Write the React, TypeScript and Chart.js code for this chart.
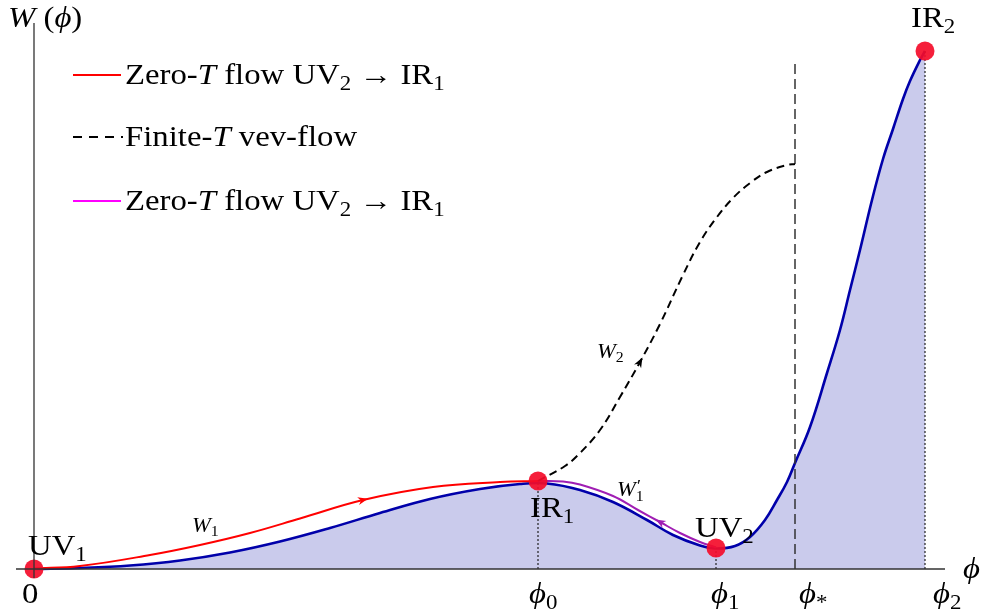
import React, { useEffect, useRef } from "react";
import { Chart, registerables } from "chart.js";

Chart.register(...registerables);

const SERIF = '"Liberation Serif", "DejaVu Serif", serif';
// horizontal widening applied to all text, to give the serif a rounder, book-like set
const STRETCH = 1.13;

// Field values of the marked points on the φ axis
const PHI_0 = 5.04;
const PHI_1 = 6.82;
const PHI_STAR = 7.61;
const PHI_2 = 8.91;

// Superpotential W(φ)
const wPhi = [0, 0.46, 0.96, 1.46, 1.96, 2.46, 2.96, 3.46, 3.96, 4.46, 4.86, 5.13, 5.46, 5.79, 6.13, 6.39, 6.66, 6.82, 7.01, 7.16, 7.31, 7.43, 7.53, 7.61, 7.76, 7.93, 8.06, 8.16, 8.26, 8.38, 8.49, 8.59, 8.69, 8.76, 8.86, 8.91];
const wVal = [0, 0.01, 0.035, 0.085, 0.165, 0.275, 0.41, 0.56, 0.7, 0.8, 0.85, 0.855, 0.79, 0.67, 0.49, 0.34, 0.235, 0.205, 0.23, 0.32, 0.49, 0.69, 0.87, 1.06, 1.42, 1.96, 2.39, 2.79, 3.19, 3.69, 4.1, 4.4, 4.7, 4.88, 5.09, 5.18];

// Zero-T flow W1 : UV1 -> IR1
const w1Phi = [0, 0.46, 1.16, 1.66, 2.16, 2.66, 3.29, 3.99, 4.66, 5.04];
const w1Val = [0.005, 0.03, 0.14, 0.24, 0.36, 0.505, 0.69, 0.82, 0.87, 0.88];

// Zero-T flow W1' : UV2 -> IR1
const w1pPhi = [5.04, 5.29, 5.46, 5.79, 6.04, 6.26, 6.46, 6.66, 6.82];
const w1pVal = [0.88, 0.875, 0.845, 0.73, 0.59, 0.47, 0.36, 0.27, 0.215];

// Finite-T vev-flow W2
const w2Phi = [5.04, 5.31, 5.46, 5.66, 5.86, 6.06, 6.26, 6.49, 6.66, 6.83, 6.99, 7.16, 7.33, 7.53, 7.61];
const w2Val = [0.88, 1.03, 1.16, 1.39, 1.72, 2.07, 2.45, 2.94, 3.27, 3.52, 3.71, 3.86, 3.97, 4.04, 4.05];

// Fixed points
const fpPhi = [0, PHI_0, PHI_1, PHI_2];
const fpVal = [0, 0.88, 0.21, 5.18];

// Height reached by the φ* marker line
const STAR_TOP = 5.09;

// Axis tick labels
const tickLabels = [
  { at: 0, main: "0", sub: "" },
  { at: PHI_0, main: "ϕ", sub: "0" },
  { at: PHI_1, main: "ϕ", sub: "1" },
  { at: PHI_STAR, main: "ϕ", sub: "*" },
  { at: PHI_2, main: "ϕ", sub: "2" },
];

const zip = (xs: number[], ys: number[]) => xs.map((x, i) => ({ x, y: ys[i] }));

type Run = { t: string; it?: boolean; sub?: boolean };

function drawRuns(ctx: CanvasRenderingContext2D, runs: Run[], x: number, y: number, size: number) {
  ctx.save();
  ctx.translate(x, y);
  ctx.scale(STRETCH, 1);
  let cx = 0;
  for (const r of runs) {
    const s = r.sub ? size * 0.7 : size;
    ctx.font = `${r.it ? "italic " : ""}${s}px ${SERIF}`;
    ctx.fillText(r.t, cx, r.sub ? size * 0.2 : 0);
    cx += ctx.measureText(r.t).width;
  }
  ctx.restore();
  return x + cx * STRETCH;
}

function arrowHead(ctx: CanvasRenderingContext2D, px: number, py: number, dx: number, dy: number, color: string) {
  const len = Math.hypot(dx, dy) || 1;
  const ux = dx / len, uy = dy / len;
  const L = 10, W = 4;
  ctx.fillStyle = color;
  ctx.beginPath();
  ctx.moveTo(px + ux * L * 0.5, py + uy * L * 0.5);
  ctx.lineTo(px - ux * L * 0.5 - uy * W, py - uy * L * 0.5 + ux * W);
  ctx.lineTo(px - ux * L * 0.2, py - uy * L * 0.2);
  ctx.lineTo(px - ux * L * 0.5 + uy * W, py - uy * L * 0.5 - ux * W);
  ctx.closePath();
  ctx.fill();
}

const overlay = {
  id: "overlay",
  afterDatasetsDraw(chart: any) {
    const { ctx, chartArea } = chart;
    const xs = chart.scales.x, ys = chart.scales.y;
    const X = (v: number) => xs.getPixelForValue(v);
    const Y = (v: number) => ys.getPixelForValue(v);
    ctx.save();

    // axes
    ctx.strokeStyle = "#333";
    ctx.lineWidth = 1.3;
    ctx.setLineDash([]);
    ctx.beginPath();
    ctx.moveTo(X(-0.18), Y(0));
    ctx.lineTo(X(9.11), Y(0));
    ctx.moveTo(X(0), Y(5.46));
    ctx.lineTo(X(0), Y(-0.09));
    ctx.stroke();

    // flow direction arrows
    const arrowAt = (px: number[], py: number[], i: number, rev: boolean, color: string) => {
      const dx = X(px[i + 1]) - X(px[i - 1]);
      const dy = Y(py[i + 1]) - Y(py[i - 1]);
      arrowHead(ctx, X(px[i]), Y(py[i]), rev ? -dx : dx, rev ? -dy : dy, color);
    };
    arrowAt(w1Phi, w1Val, 6, false, "#ff0000");
    arrowAt(w1pPhi, w1pVal, 5, true, "#a01eb4");
    arrowAt(w2Phi, w2Val, 5, false, "#000");

    ctx.fillStyle = "#000";
    ctx.textBaseline = "alphabetic";
    ctx.textAlign = "left";

    // axis titles
    drawRuns(ctx, [{ t: "W", it: true }, { t: " (" }, { t: "ϕ", it: true }, { t: ")" }], X(0) - 26, 27, 29);
    drawRuns(ctx, [{ t: "ϕ", it: true }], X(9.11) + 18, Y(0) + 9, 29);

    // tick labels
    const tickShift: Record<string, number> = { "": -12, "0": -9, "1": -5, "*": 4, "2": 8 };
    for (const tl of tickLabels) {
      const runs: Run[] = tl.main === "0" ? [{ t: "0" }] : [{ t: tl.main, it: true }, { t: tl.sub, sub: true }];
      drawRuns(ctx, runs, X(tl.at) + tickShift[tl.main === "0" ? "" : tl.sub], Y(0) + 34, 29);
    }

    // fixed-point names
    drawRuns(ctx, [{ t: "UV" }, { t: "1", sub: true }], X(0) - 6, Y(fpVal[0]) - 14, 29);
    drawRuns(ctx, [{ t: "IR" }, { t: "1", sub: true }], X(PHI_0) - 8, Y(fpVal[1]) + 36, 29);
    drawRuns(ctx, [{ t: "UV" }, { t: "2", sub: true }], X(PHI_1) - 21, Y(fpVal[2]) - 11, 29);
    drawRuns(ctx, [{ t: "IR" }, { t: "2", sub: true }], X(PHI_2) - 14, Y(fpVal[3]) - 24, 29);

    // flow names
    drawRuns(ctx, [{ t: "W", it: true }, { t: "1", sub: true }], X(1.58), Y(w1Val[3]) - 13, 20);
    drawRuns(ctx, [{ t: "W", it: true }, { t: "2", sub: true }], X(5.63), Y(2.07) - 4, 20);
    {
      const x0 = X(5.83), y0 = Y(0.73);
      ctx.save();
      ctx.translate(x0, y0);
      ctx.scale(STRETCH, 1);
      ctx.font = `italic 20px ${SERIF}`;
      ctx.fillText("W", 0, 0);
      const wW = ctx.measureText("W").width;
      ctx.font = `16px ${SERIF}`;
      ctx.fillText("′", wW + 1, -5);
      ctx.font = `14px ${SERIF}`;
      ctx.fillText("1", wW, 5);
      ctx.restore();
    }

    // legend
    const lx = chartArea.left + 73, tx = chartArea.left + 125;
    const rows = [75, 137, 201];
    ctx.lineWidth = 2;
    ctx.strokeStyle = "#ff0000";
    ctx.beginPath(); ctx.moveTo(lx, rows[0]); ctx.lineTo(lx + 48, rows[0]); ctx.stroke();
    ctx.strokeStyle = "#000";
    ctx.setLineDash([9, 7]);
    ctx.beginPath(); ctx.moveTo(lx, rows[1]); ctx.lineTo(lx + 50, rows[1]); ctx.stroke();
    ctx.setLineDash([]);
    ctx.strokeStyle = "#ff00ff";
    ctx.beginPath(); ctx.moveTo(lx, rows[2]); ctx.lineTo(lx + 48, rows[2]); ctx.stroke();

    ctx.fillStyle = "#000";
    const zeroT: Run[] = [{ t: "Zero-" }, { t: "T", it: true }, { t: " flow UV" }, { t: "2", sub: true }, { t: " → IR" }, { t: "1", sub: true }];
    drawRuns(ctx, zeroT, tx, rows[0] + 9, 29);
    drawRuns(ctx, [{ t: "Finite-" }, { t: "T", it: true }, { t: " vev-flow" }], tx, rows[1] + 9, 29);
    drawRuns(ctx, zeroT, tx, rows[2] + 9, 29);

    ctx.restore();
  },
};

export default function App() {
  const ref = useRef<HTMLCanvasElement>(null);

  useEffect(() => {
    const dotted = (phi: number, top: number) => ({
      data: [{ x: phi, y: 0 }, { x: phi, y: top }],
      borderColor: "#222",
      borderWidth: 1.2,
      borderDash: [2, 2],
      pointRadius: 0,
      fill: false,
      tension: 0,
      order: 5,
    });

    const chart = new Chart(ref.current!, {
      type: "line",
      data: {
        datasets: [
          {
            data: zip(fpPhi, fpVal),
            showLine: false,
            pointRadius: 9.5,
            pointBackgroundColor: "rgba(244,12,42,0.92)",
            pointBorderWidth: 0,
            order: 0,
          },
          {
            data: zip(w2Phi, w2Val),
            borderColor: "#000",
            borderWidth: 2,
            borderDash: [8, 5],
            pointRadius: 0,
            fill: false,
            tension: 0.4,
            order: 1,
          },
          {
            data: zip(w1Phi, w1Val),
            borderColor: "#ff0000",
            borderWidth: 2,
            pointRadius: 0,
            fill: false,
            tension: 0.4,
            order: 2,
          },
          {
            data: zip(w1pPhi, w1pVal),
            borderColor: "#a01eb4",
            borderWidth: 2,
            pointRadius: 0,
            fill: false,
            tension: 0.4,
            order: 3,
          },
          {
            data: zip(wPhi, wVal),
            borderColor: "#0000aa",
            borderWidth: 2.6,
            backgroundColor: "rgb(202,203,236)",
            pointRadius: 0,
            fill: "origin",
            tension: 0.4,
            order: 6,
          },
          {
            data: [{ x: PHI_STAR, y: 0 }, { x: PHI_STAR, y: STAR_TOP }],
            borderColor: "#333",
            borderWidth: 1.5,
            borderDash: [10, 5],
            pointRadius: 0,
            fill: false,
            tension: 0,
            order: 4,
          },
          dotted(PHI_0, fpVal[1]),
          dotted(PHI_1, fpVal[2]),
          dotted(PHI_2, fpVal[3]),
        ] as any,
      },
      options: {
        animation: false,
        responsive: false,
        maintainAspectRatio: false,
        events: [],
        layout: { padding: 0, autoPadding: false },
        plugins: {
          legend: { display: false },
          tooltip: { enabled: false },
          filler: { drawTime: "beforeDatasetsDraw" },
        } as any,
        scales: {
          x: { type: "linear", min: -0.34, max: 9.5, display: false },
          y: { type: "linear", min: -0.46, max: 5.69, display: false },
        },
      },
      plugins: [overlay],
    });
    return () => chart.destroy();
  }, []);

  return (
    <div style={{ position: "fixed", left: 0, top: 0, width: 984, height: 615, background: "#fff" }}>
      <canvas ref={ref} width={984} height={615} style={{ display: "block" }} />
    </div>
  );
}
